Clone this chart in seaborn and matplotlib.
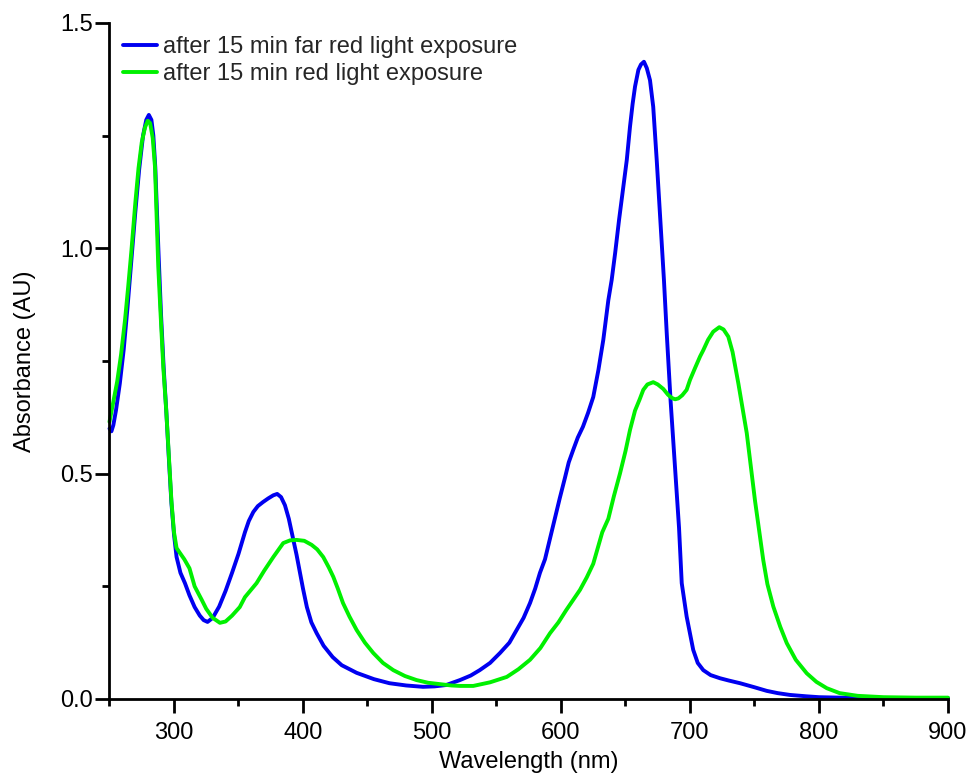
import numpy as np
import pandas as pd
import matplotlib
matplotlib.use("Agg")
import matplotlib.pyplot as plt
from matplotlib.ticker import MultipleLocator, FormatStrFormatter
import seaborn as sns

# Absorbance spectra of the photoreceptor after far-red (Pr form) and red (Pfr form) illumination
far_red_wavelength = [
    250, 251.5, 253, 255, 258, 261, 264, 267, 270, 273, 276, 278.5, 280.5, 282.5, 284,
    285.5, 288, 290, 292, 294, 296, 298, 300, 302, 305, 308.5, 312, 316, 320, 323, 326,
    330, 335, 340, 345, 350, 355, 358, 361.5, 365, 369, 373, 377, 380, 383, 386, 389,
    392, 395, 397.7, 400, 403, 406.5, 410.6, 416, 423, 430, 441.6, 455, 467, 480, 493,
    502, 511, 521.7, 530, 537, 545, 552.7, 560, 565.6, 571, 576, 580, 583.7, 587.6, 591,
    595.3, 599, 603, 606, 609.5, 613, 617, 621, 625, 629, 632.8, 636.7, 639.3, 642, 645,
    648, 651, 653.5, 655.5, 657.4, 660, 662, 664.3, 666.5, 669, 671.5, 674.2, 677, 679.8,
    682, 685, 689.2, 691.5, 693.6, 697.4, 702.5, 706, 710.3, 716, 723.3, 730, 738.8,
    750, 759.5, 768, 777.5, 790, 800, 816, 850, 900,
]
far_red_absorbance = [
    0.600, 0.594, 0.608, 0.640, 0.700, 0.775, 0.870, 0.975, 1.080, 1.175, 1.250, 1.285,
    1.296, 1.285, 1.250, 1.180, 0.990, 0.850, 0.735, 0.640, 0.535, 0.435, 0.365, 0.315,
    0.280, 0.257, 0.230, 0.204, 0.185, 0.175, 0.171, 0.180, 0.205, 0.240, 0.280, 0.322,
    0.370, 0.395, 0.415, 0.428, 0.437, 0.445, 0.452, 0.455, 0.448, 0.430, 0.400, 0.360,
    0.320, 0.280, 0.245, 0.204, 0.170, 0.146, 0.118, 0.093, 0.075, 0.058, 0.044, 0.035,
    0.030, 0.027, 0.028, 0.031, 0.042, 0.052, 0.064, 0.080, 0.102, 0.125, 0.153, 0.180,
    0.213, 0.245, 0.280, 0.310, 0.350, 0.400, 0.445, 0.490, 0.525, 0.553, 0.580, 0.604,
    0.635, 0.670, 0.730, 0.797, 0.885, 0.930, 0.990, 1.063, 1.130, 1.196, 1.270, 1.320,
    1.359, 1.396, 1.408, 1.414, 1.400, 1.373, 1.314, 1.196, 1.063, 0.930, 0.810, 0.660,
    0.480, 0.380, 0.257, 0.183, 0.109, 0.080, 0.064, 0.053, 0.046, 0.041, 0.035, 0.026,
    0.018, 0.013, 0.009, 0.006, 0.004, 0.003, 0.002, 0.002,
]

red_wavelength = [
    250, 253, 256, 259, 262, 264.5, 267, 270, 272.5, 275, 277.5, 279.6, 281.5, 283.5,
    285.3, 287.8, 289.5, 291.7, 294, 296, 298, 300, 302, 304.6, 308, 312, 316, 321.5,
    325, 330, 335.6, 340, 345, 351, 355, 364, 370, 377, 384.7, 390, 395, 401, 406.7,
    411, 415.7, 420, 423.5, 427, 431, 436, 441.6, 448, 454.5, 462, 470, 479, 488, 497,
    506, 515, 521.7, 532, 545, 558, 567, 576, 584, 591.5, 598, 604, 609, 614.7, 620,
    625, 628, 632, 636.7, 641, 645.7, 650, 653.5, 657.4, 661, 663.8, 667, 671.5, 675,
    679.3, 683, 686, 688.4, 691, 694, 697.4, 700, 704, 707.8, 710.3, 714, 718, 722.7,
    726, 729.7, 733, 737.5, 744, 750.4, 756.8, 760, 764.6, 770, 775, 782, 790.5, 798,
    806, 816, 830, 850, 875, 900,
]
red_absorbance = [
    0.615, 0.660, 0.705, 0.765, 0.840, 0.915, 0.995, 1.100, 1.178, 1.235, 1.268, 1.283,
    1.278, 1.245, 1.180, 0.960, 0.860, 0.737, 0.640, 0.540, 0.440, 0.370, 0.335, 0.324,
    0.310, 0.290, 0.250, 0.220, 0.200, 0.180, 0.169, 0.172, 0.185, 0.204, 0.226, 0.257,
    0.285, 0.315, 0.346, 0.352, 0.353, 0.351, 0.342, 0.332, 0.315, 0.292, 0.271, 0.245,
    0.213, 0.183, 0.153, 0.125, 0.102, 0.080, 0.064, 0.051, 0.042, 0.036, 0.033, 0.030,
    0.029, 0.029, 0.037, 0.049, 0.066, 0.087, 0.113, 0.146, 0.170, 0.197, 0.218, 0.242,
    0.270, 0.300, 0.330, 0.370, 0.400, 0.450, 0.500, 0.550, 0.597, 0.640, 0.665, 0.686,
    0.698, 0.703, 0.698, 0.688, 0.675, 0.668, 0.665, 0.667, 0.674, 0.686, 0.708, 0.735,
    0.760, 0.774, 0.797, 0.815, 0.825, 0.820, 0.804, 0.770, 0.700, 0.590, 0.440, 0.308,
    0.255, 0.205, 0.160, 0.124, 0.087, 0.057, 0.038, 0.024, 0.013, 0.007, 0.004, 0.003,
    0.003,
]

series_labels = [
    "after 15 min far red light exposure",
    "after 15 min red light exposure",
]
series_colors = ["#0000f0", "#00f000"]

x_major_ticks = [300, 400, 500, 600, 700, 800, 900]
y_major_ticks = [0.0, 0.5, 1.0, 1.5]

spectra = pd.concat([
    pd.DataFrame({"wavelength": far_red_wavelength, "absorbance": far_red_absorbance,
                  "condition": series_labels[0]}),
    pd.DataFrame({"wavelength": red_wavelength, "absorbance": red_absorbance,
                  "condition": series_labels[1]}),
], ignore_index=True)

sns.set_theme(style="ticks")
plt.rcParams["font.family"] = ["Liberation Sans", "DejaVu Sans"]

fig = plt.figure(figsize=(9.75, 7.77), dpi=100)
ax = fig.add_axes([0.1123, 0.1004, 0.8600, 0.8700])

sns.lineplot(data=spectra, x="wavelength", y="absorbance", hue="condition",
             hue_order=series_labels, palette=series_colors, sort=False,
             estimator=None, linewidth=2.8, ax=ax, clip_on=False)

ax.set_xlim(250, 900)
ax.set_ylim(0, 1.5)
ax.set_xticks(x_major_ticks)
ax.set_yticks(y_major_ticks)
ax.xaxis.set_minor_locator(MultipleLocator(50))
ax.yaxis.set_minor_locator(MultipleLocator(0.25))
ax.yaxis.set_major_formatter(FormatStrFormatter("%.1f"))

for side in ("top", "right"):
    ax.spines[side].set_visible(False)
for side in ("left", "bottom"):
    ax.spines[side].set_linewidth(2.0)
    ax.spines[side].set_color("black")

ax.tick_params(which="major", length=10, width=2.0, color="black",
               labelsize=17, labelcolor="black", direction="out")
ax.tick_params(axis="y", which="major", pad=2)
ax.tick_params(axis="x", which="major", pad=6.5)
ax.tick_params(which="minor", length=5, width=2.0, color="black", direction="out")

ax.set_xlabel("Wavelength (nm)", fontsize=17, labelpad=5, color="black")
ax.set_ylabel("Absorbance (AU)", fontsize=17, labelpad=17, color="black")

ax.legend(loc="upper left", bbox_to_anchor=(0.016, 0.981), frameon=False,
          fontsize=17, handlelength=1.45, handletextpad=0.25,
          labelspacing=0.23, borderpad=0.0, borderaxespad=0.0)

fig.savefig("out.png", dpi=100, facecolor="white")
